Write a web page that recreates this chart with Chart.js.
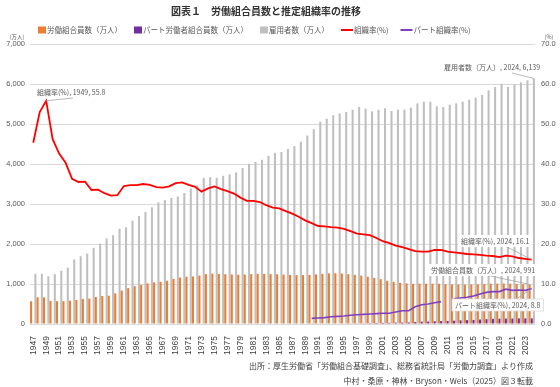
<!DOCTYPE html>
<html><head><meta charset="utf-8">
<script src="https://cdn.jsdelivr.net/npm/chart.js@4/dist/chart.umd.min.js"></script>
<style>html,body{margin:0;padding:0;background:#fff;}#wrap{width:560px;height:387px;position:relative;}</style>
</head><body><div id="wrap"><canvas id="c" width="560" height="387"></canvas></div>
<script>
const titleText = "図表１　労働組合員数と推定組織率の推移";
const seriesNames = ["労働組合員数（万人）","パート労働者組合員数（万人）","雇用者数（万人）","組織率(%)","パート組織率(%)"];
const leftUnit = "(万人)";
const rightUnit = "(%)";
const footerLines = ["出所：厚生労働省「労働組合基礎調査」、総務省統計局「労働力調査」より作成","中村・桑原・神林・Bryson・Wels（2025）図３転載"];

const years = [];
for (let y = 1947; y <= 2024; y++) years.push(String(y));

const unionMembers = [569,668,666,577,569,570,584,599,629,635,676,702,708,766,837,897,944,980,1015,1040,
1057,1080,1125,1160,1180,1188,1210,1246,1259,1251,1244,1238,1231,1237,1247,1253,1252,1246,1242,1234,
1227,1223,1223,1226,1240,1254,1266,1270,1261,1245,1229,1209,1183,1154,1121,1080,1053,1031,1014,1004,
1008,1007,1008,1005,996,989,988,985,988,994,998,1007,1009,1012,1008,999,994,991];

const partMembers = [null,null,null,null,null,null,null,null,null,null,null,null,null,null,null,null,null,null,null,null,
null,null,null,null,null,null,null,null,null,null,null,null,null,null,null,null,null,null,null,null,
null,null,null,9.7,10.4,11.2,12.8,13.6,14.8,16.3,17.4,18.9,21.5,26.0,28.0,29.2,33.1,36.3,38.9,51.5,
58.8,61.6,70.0,72.6,77.6,83.7,91.4,97.0,102.5,113.1,120.8,129.6,133.3,137.5,136.3,140.4,141.0,141.0];

const employees = [1256,1257,1193,1245,1334,1408,1615,1695,1760,1905,2008,2140,2220,2382,2416,2585,2700,2800,2916,3041,
3095,3150,3190,3275,3388,3465,3655,3670,3655,3705,3740,3790,3898,4005,4050,4105,4205,4280,4300,4376,
4445,4560,4712,4875,5058,5133,5216,5266,5300,5358,5425,5383,5316,5358,5391,5325,5358,5358,5408,5516,
5558,5558,5441,5425,5483,5516,5558,5608,5658,5725,5841,5925,6008,5925,5983,6041,6091,6139];

const unionRate = [45.3,53.0,55.8,46.2,42.6,40.3,36.3,35.5,35.6,33.5,33.6,32.7,32.1,32.2,34.5,34.7,34.7,35.0,34.8,34.2,
34.1,34.4,35.2,35.4,34.8,34.3,33.1,33.9,34.4,33.7,33.2,32.6,31.6,30.8,30.8,30.5,29.7,29.1,28.9,28.2,
27.6,26.8,25.9,25.2,24.5,24.4,24.2,24.1,23.8,23.2,22.6,22.4,22.2,21.5,20.7,20.2,19.6,19.2,18.7,18.2,
18.1,18.1,18.5,18.5,18.1,17.9,17.7,17.5,17.4,17.3,17.1,17.0,16.7,17.1,16.9,16.5,16.3,16.1];

const partRate = [null,null,null,null,null,null,null,null,null,null,null,null,null,null,null,null,null,null,null,null,
null,null,null,null,null,null,null,null,null,null,null,null,null,null,null,null,null,null,null,null,
null,null,null,1.4,1.5,1.6,1.8,1.9,2.0,2.2,2.3,2.4,2.5,2.6,2.7,2.7,3.0,3.3,3.3,4.3,
4.8,5.0,5.3,5.6,null,6.3,6.5,6.7,7.0,7.5,7.9,8.1,8.1,8.7,8.4,8.5,8.4,8.8];

const leftTickMax = 7000, leftTickStep = 1000;
const rightTickMax = 70, rightTickStep = 10;

const COLORS = ['#ED7D31','#7030A0','#BFBFBF','#FF0000','#7F3FBF'];
const LF = "'Liberation Sans','Noto Sans CJK JP',sans-serif";
const JF = "'Noto Sans CJK JP','Liberation Sans',sans-serif";
const TXT = '#595959';

const overlay = {
  id: 'overlay',
  afterDraw(chart) {
    const ctx = chart.ctx;
    ctx.save();
    ctx.fillStyle = '#333333';
    ctx.font = "bold 10px " + JF;
    ctx.textAlign = 'center'; ctx.textBaseline = 'middle';
    ctx.fillText(titleText, 266, 11);
    ctx.font = "7.5px " + JF;
    ctx.textAlign = 'left';
    let x = 38; const ly = 30;
    seriesNames.forEach((n, i) => {
      if (i < 3) {
        ctx.fillStyle = COLORS[i];
        ctx.fillRect(x, ly - 3.5, 8, 7);
        x += 9;
      } else {
        ctx.strokeStyle = COLORS[i]; ctx.lineWidth = 2;
        ctx.beginPath(); ctx.moveTo(x, ly); ctx.lineTo(x + 12, ly); ctx.stroke();
        x += 13;
      }
      ctx.fillStyle = TXT;
      ctx.fillText(n, x, ly + 0.5);
      x += ctx.measureText(n).width + 12;
    });
    ctx.font = "5.5px " + JF;
    ctx.textAlign = 'center';
    ctx.fillText(leftUnit, 17, 37);
    ctx.fillText(rightUnit, 549, 37);

    const m = (d, i) => chart.getDatasetMeta(d).data[i];
    const last = years.length - 1;
    const i49 = years.indexOf('1949');
    const labels = [
      {t: seriesNames[3] + ', 1949, ' + unionRate[i49].toFixed(1), x: 37, y: 92, el: m(3, i49), ax: 73, ay: 98, bg: false},
      {t: seriesNames[2] + ', 2024, ' + employees[last].toLocaleString('en-US'), x: 444, y: 67, el: m(2, last), ax: 512, ay: 73, bg: false},
      {t: seriesNames[3] + ', 2024, ' + unionRate[last].toFixed(1), x: 461, y: 241, el: m(3, last), ax: 505, ay: 246, bg: true},
      {t: seriesNames[0] + ', 2024, ' + unionMembers[last], x: 431, y: 270, el: m(0, last), ax: 486, ay: 275, bg: true},
      {t: seriesNames[4] + ', 2024, ' + partRate[last].toFixed(1), x: 455, y: 305, el: m(4, last), ax: 515, ay: 300, bg: true, box: true}
    ];
    ctx.font = "7px " + JF;
    ctx.textAlign = 'left';
    labels.forEach(l => {
      ctx.strokeStyle = '#A6A6A6'; ctx.lineWidth = 0.8;
      ctx.beginPath(); ctx.moveTo(l.ax, l.ay); ctx.lineTo(l.el.x, l.el.y); ctx.stroke();
      const w = ctx.measureText(l.t).width;
      if (l.bg) {
        ctx.fillStyle = '#FFFFFF';
        ctx.fillRect(l.x - 3, l.y - 6, w + 6, 12);
        if (l.box) { ctx.strokeStyle = '#D9D9D9'; ctx.lineWidth = 0.8; ctx.strokeRect(l.x - 3, l.y - 6, w + 6, 12); }
      }
      ctx.fillStyle = TXT;
      ctx.fillText(l.t, l.x, l.y + 0.5);
    });

    ctx.font = "8px " + JF;
    ctx.textAlign = 'right';
    ctx.fillStyle = '#404040';
    ctx.fillText(footerLines[0], 533, 366);
    ctx.fillText(footerLines[1], 533, 381);
    ctx.restore();
  }
};

const barCommon = {type: 'bar', yAxisID: 'y', order: 2, barPercentage: 0.96, categoryPercentage: 1.0};
new Chart(document.getElementById('c'), {
  data: {
    labels: years,
    datasets: [
      Object.assign({label: seriesNames[0], data: unionMembers, backgroundColor: COLORS[0]}, barCommon),
      Object.assign({label: seriesNames[1], data: partMembers, backgroundColor: COLORS[1]}, barCommon),
      Object.assign({label: seriesNames[2], data: employees, backgroundColor: COLORS[2]}, barCommon),
      {type: 'line', label: seriesNames[3], data: unionRate, yAxisID: 'y1', order: 1, borderColor: COLORS[3], borderWidth: 1.8, pointRadius: 0, tension: 0, fill: false},
      {type: 'line', label: seriesNames[4], data: partRate, yAxisID: 'y1', order: 0, borderColor: COLORS[4], borderWidth: 1.6, pointRadius: 0, tension: 0, fill: false, spanGaps: false}
    ]
  },
  options: {
    responsive: false, animation: false, devicePixelRatio: 1,
    layout: {padding: {top: 44, bottom: 0, left: 0, right: 0}},
    plugins: {legend: {display: false}, title: {display: false}, tooltip: {enabled: false}},
    scales: {
      x: {
        grid: {display: false}, border: {display: false},
        ticks: {autoSkip: false, maxRotation: 90, minRotation: 90, padding: 4, color: '#404040', font: {family: LF, size: 8.5},
          callback: function(v, i) { return i % 2 === 0 ? years[i] : ''; }},
        afterFit: s => { s.height = 63; }
      },
      y: {
        position: 'left', min: 0, max: leftTickMax,
        grid: {color: '#D9D9D9', drawTicks: false, lineWidth: 1}, border: {display: false},
        ticks: {stepSize: leftTickStep, padding: 5, color: TXT, font: {family: LF, size: 7.5},
          callback: v => v.toLocaleString('en-US')},
        afterFit: s => { s.width = 30; }
      },
      y1: {
        position: 'right', min: 0, max: rightTickMax,
        grid: {drawOnChartArea: false, drawTicks: false}, border: {display: false},
        ticks: {stepSize: rightTickStep, padding: 6, color: TXT, font: {family: LF, size: 7.5},
          callback: v => v.toFixed(1)},
        afterFit: s => { s.width = 25; }
      }
    }
  },
  plugins: [overlay]
});
</script></body></html>
